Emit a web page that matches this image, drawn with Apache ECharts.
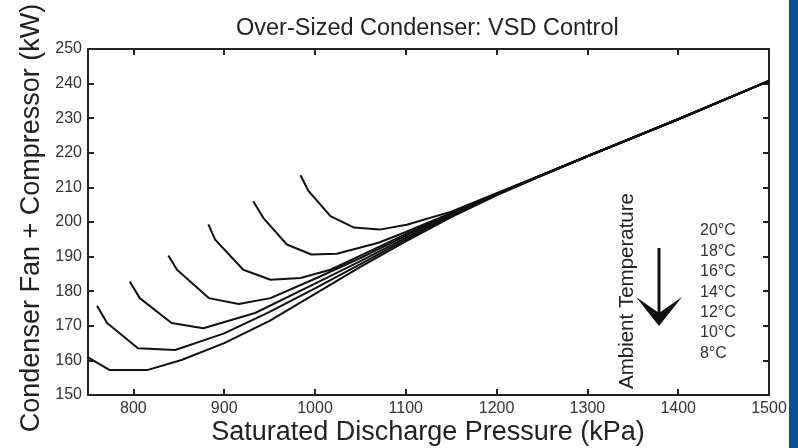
<!DOCTYPE html>
<html>
<head>
<meta charset="utf-8">
<script src="https://cdn.jsdelivr.net/npm/echarts@6/dist/echarts.min.js"></script>
<style>html,body{margin:0;padding:0;background:#fff}#c{width:798px;height:448px}</style>
</head>
<body>
<div id="c"></div>
<script>
// ---- data ----
const xTicks = [800, 900, 1000, 1100, 1200, 1300, 1400, 1500];
const yTicks = [150, 160, 170, 180, 190, 200, 210, 220, 230, 240, 250];
const tempLabels = ['20\u00B0C', '18\u00B0C', '16\u00B0C', '14\u00B0C', '12\u00B0C', '10\u00B0C', '8\u00B0C'];

const tailP  = [1300, 1400, 1500];
const tailKW = [219.0, 229.7, 240.8];

const p8   = [750, 774, 815, 853, 900, 950, 1000, 1050, 1100, 1150, 1200, 1250];
const kw8  = [160.9, 157.2, 157.2, 160.1, 165.0, 171.4, 179.2, 187.0, 194.4, 201.4, 207.7, 213.4];
const p10  = [760, 771, 805, 846, 900, 950, 1000, 1050, 1100, 1150, 1200, 1250];
const kw10 = [175.8, 170.8, 163.5, 163.0, 167.8, 174.0, 180.8, 187.8, 194.9, 201.6, 207.9, 213.5];
const p12  = [796, 807, 842, 877, 934, 1000, 1050, 1100, 1150, 1200, 1250];
const kw12 = [182.8, 178.0, 170.8, 169.3, 173.7, 182.2, 188.7, 195.4, 201.9, 208.0, 213.5];
const p14  = [838.5, 848, 883, 916, 951, 1000, 1050, 1100, 1150, 1200, 1250];
const kw14 = [190.3, 186.2, 178.0, 176.3, 178.0, 183.6, 189.6, 196.0, 202.2, 208.1, 213.6];
const p16  = [882.6, 890, 921, 951, 984, 1017, 1050, 1100, 1150, 1200, 1250];
const kw16 = [199.3, 194.9, 186.2, 183.3, 183.8, 186.2, 190.3, 196.5, 202.4, 208.1, 213.6];
const p18  = [932, 943, 969, 996, 1024, 1070, 1100, 1150, 1200, 1250];
const kw18 = [206.0, 201.2, 193.5, 190.6, 190.8, 194.0, 197.1, 202.6, 208.2, 213.6];
const p20  = [984, 993, 1017, 1043, 1071, 1101, 1150, 1200, 1250];
const kw20 = [213.5, 208.9, 201.7, 198.4, 197.8, 199.2, 203.0, 208.3, 213.6];

// ---- chart ----
const FF = 'Liberation Sans, Arial, Helvetica, sans-serif';
const curves = [[p20, kw20], [p18, kw18], [p16, kw16], [p14, kw14], [p12, kw12], [p10, kw10], [p8, kw8]];

function pairs(p, k) {
  const out = p.map((x, i) => [x, k[i]]);
  tailP.forEach((x, i) => out.push([x, tailKW[i]]));
  return out;
}

const series = curves.map((c, i) => ({
  type: 'line',
  name: tempLabels[i],
  data: pairs(c[0], c[1]),
  showSymbol: false,
  symbol: 'none',
  smooth: false,
  lineStyle: { color: '#111', width: 2 },
  z: 3
}));

const lineSt = { color: '#222', width: 2 };
function xAx(pos, labels) {
  return {
    type: 'value', min: 750, max: 1500, position: pos,
    axisLine: { show: true, onZero: false, lineStyle: lineSt },
    axisTick: { show: true, inside: true, length: 6, customValues: xTicks, lineStyle: lineSt },
    axisLabel: { show: labels, customValues: xTicks, margin: 6, fontSize: 16, color: '#333', fontFamily: FF,
                 formatter: v => String(v) },
    splitLine: { show: false }
  };
}
function yAx(pos, labels) {
  return {
    type: 'value', min: 150, max: 250, interval: 10, position: pos,
    axisLine: { show: true, onZero: false, lineStyle: lineSt },
    axisTick: { show: true, inside: true, length: 6, lineStyle: lineSt },
    axisLabel: { show: labels, margin: 6, fontSize: 16, color: '#333', fontFamily: FF,
                 formatter: v => String(v) },
    splitLine: { show: false }
  };
}

const graphic = [
  { type: 'text', x: 32, y: 218, rotation: Math.PI / 2,
    style: { text: 'Condenser Fan + Compressor (kW)', font: '27px ' + FF, fill: '#222',
             align: 'center', verticalAlign: 'middle', textAlign: 'center', textVerticalAlign: 'middle' } },
  { type: 'text', x: 428, y: 433,
    style: { text: 'Saturated Discharge Pressure (kPa)', font: '27px ' + FF, fill: '#222',
             align: 'center', verticalAlign: 'middle', textAlign: 'center', textVerticalAlign: 'middle' } },
  { type: 'text', x: 627, y: 291, rotation: Math.PI / 2,
    style: { text: 'Ambient Temperature', font: '20.5px ' + FF, fill: '#222',
             align: 'center', verticalAlign: 'middle', textAlign: 'center', textVerticalAlign: 'middle' } },
  { type: 'line', shape: { x1: 659, y1: 248, x2: 659, y2: 318 }, style: { stroke: '#111', lineWidth: 3 } },
  { type: 'polygon', shape: { points: [[636, 297], [659, 313], [682, 297], [659, 326]] }, style: { fill: '#111' } },
  { type: 'rect', shape: { x: 789, y: 0, width: 9, height: 448 }, style: { fill: '#0a4f94' }, z: 100 }
];
tempLabels.forEach((t, i) => {
  graphic.push({ type: 'text', x: 700, y: 231 + 20.4 * i,
    style: { text: t, font: '16px ' + FF, fill: '#333',
             align: 'left', verticalAlign: 'middle', textAlign: 'left', textVerticalAlign: 'middle' } });
});

const chart = echarts.init(document.getElementById('c'), null, { renderer: 'canvas' });
chart.setOption({
  animation: false,
  backgroundColor: '#fff',
  title: {
    text: 'Over-Sized Condenser: VSD Control',
    left: 236, top: 17, padding: 0,
    textStyle: { fontSize: 23.5, fontWeight: 'normal', color: '#222', fontFamily: FF }
  },
  grid: { left: 88, top: 49, right: 29, bottom: 53, outerBoundsMode: 'none', containLabel: false },
  xAxis: [xAx('bottom', true), xAx('top', false)],
  yAxis: [yAx('left', true), yAx('right', false)],
  series: series,
  graphic: graphic
});
</script>
</body>
</html>
